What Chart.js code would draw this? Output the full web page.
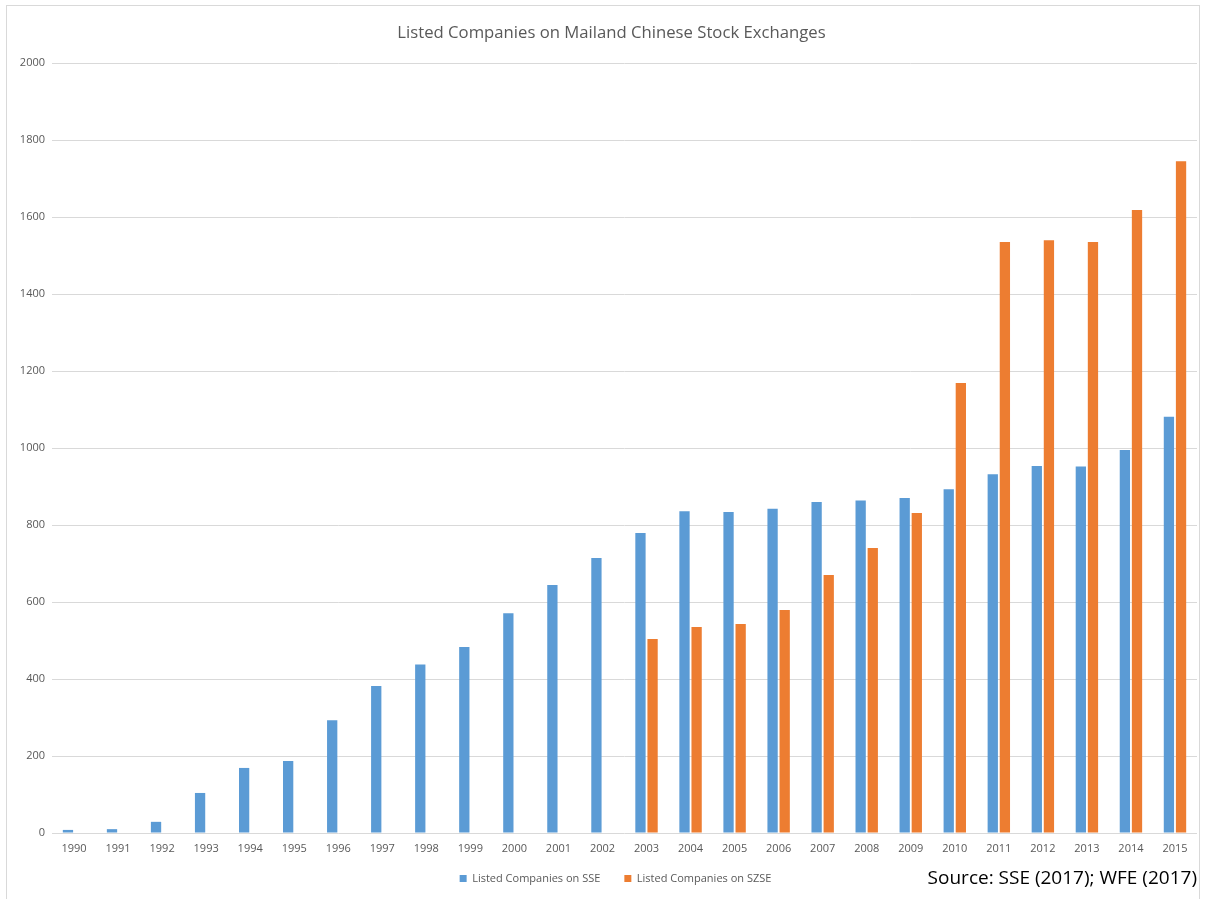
<!DOCTYPE html>
<html>
<head>
<meta charset="utf-8">
<script src="https://cdn.jsdelivr.net/npm/chart.js@4/dist/chart.umd.min.js"></script>
<style>
  body { margin: 0; background: #fff; }
  #wrap { position: relative; width: 1215px; height: 899px; }
  #frame { position: absolute; left: 6px; top: 5px; width: 1194px; height: 900px;
           border: 1px solid #d9d9d9; border-bottom: none; box-sizing: border-box; }
  #source { position: absolute; right: 18px; top: 864px; font-family: "Open Sans", sans-serif;
            font-size: 19px; color: #000; }
</style>
</head>
<body>
<div id="wrap">
  <div id="frame"></div>
  <canvas id="chart" width="1215" height="899"></canvas>
  <div id="source">Source: SSE (2017); WFE (2017)</div>
</div>
<script>
// Years on the x axis
const years = ["1990","1991","1992","1993","1994","1995","1996","1997","1998","1999","2000","2001","2002",
               "2003","2004","2005","2006","2007","2008","2009","2010","2011","2012","2013","2014","2015"];

// Listed companies on the Shanghai exchange
const sseValues = [8, 10, 29, 104, 169, 187, 293, 382, 438, 483, 571, 644, 714,
                   779, 836, 834, 842, 860, 864, 870, 893, 932, 953, 952, 995, 1081];

// Listed companies on the Shenzhen exchange (no data before 2003)
const szseValues = [null, null, null, null, null, null, null, null, null, null, null, null, null,
                    504, 535, 543, 579, 670, 740, 831, 1169, 1535, 1540, 1535, 1618, 1745];

const yTicks = [0, 200, 400, 600, 800, 1000, 1200, 1400, 1600, 1800, 2000];

const grey = "#595959";
const font = "'Open Sans', sans-serif";

// Excel centres title and legend on the whole picture, not on the plot;
// also pull the legend row a bit closer to the axis labels
const boxNudge = {
  id: "boxNudge",
  afterLayout(chart) {
    const t = chart.titleBlock;
    t.left += 13; t.right += 13;
    const l = chart.legend;
    l.top -= 10; l.bottom -= 10;
    l.left += 17; l.right += 17;
  }
};

new Chart(document.getElementById("chart").getContext("2d"), {
  type: "bar",
  data: {
    labels: years,
    datasets: [
      { label: "Listed Companies on SSE", data: sseValues, backgroundColor: "#5B9BD5" },
      { label: "Listed Companies on SZSE", data: szseValues, backgroundColor: "#ED7D31" }
    ]
  },
  plugins: [boxNudge],
  options: {
    responsive: false,
    animation: false,
    categoryPercentage: 0.55,
    barPercentage: 0.85,
    layout: { padding: { left: 0, right: 18, top: 0, bottom: 0 } },
    plugins: {
      title: {
        display: true,
        text: "Listed Companies on Mailand Chinese Stock Exchanges",
        color: grey,
        font: { family: font, size: 16.7, weight: "normal" },
        padding: { top: 23, bottom: 20 }
      },
      legend: {
        position: "bottom",
        maxHeight: 40,
        labels: {
          color: grey,
          font: { family: font, size: 11 },
          boxWidth: 7,
          boxHeight: 7,
          padding: 24
        }
      },
      tooltip: { enabled: false }
    },
    scales: {
      x: {
        grid: { display: false },
        border: { display: false },
        ticks: { color: grey, font: { family: font, size: 11 }, maxRotation: 0, autoSkip: false, padding: 1 },
        afterFit: s => { s.height = 26; }
      },
      y: {
        min: 0,
        max: 2000,
        afterBuildTicks: s => { s.ticks = yTicks.map(v => ({ value: v })); },
        grid: { color: "#d9d9d9", drawTicks: false },
        border: { display: false },
        ticks: { color: grey, font: { family: font, size: 11 }, padding: 7, callback: v => String(v) },
        afterFit: s => { s.width = 52; }
      }
    }
  }
});
</script>
</body>
</html>
